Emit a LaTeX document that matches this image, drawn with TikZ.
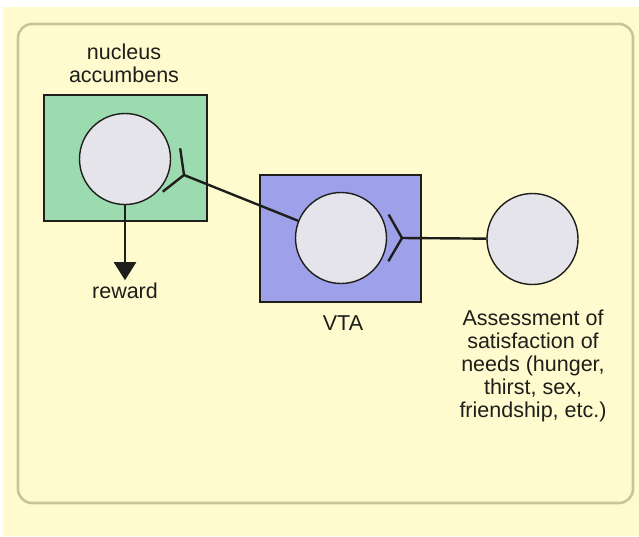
\documentclass[tikz,border=0pt]{standalone}
\usepackage{fontspec}
\setmainfont{Liberation Sans}
\usetikzlibrary{arrows.meta,calc}
\definecolor{bgyellow}{RGB}{255,251,206}
\definecolor{framecol}{RGB}{200,198,152}
\definecolor{nagreen}{RGB}{155,219,175}
\definecolor{vtablue}{RGB}{158,160,234}
\definecolor{cellgray}{RGB}{228,228,234}
\definecolor{ink}{RGB}{30,30,26}
\begin{document}
\begin{tikzpicture}[x=1pt,y=-1pt,
  regionbox/.style={draw=ink, line width=1.4pt, inner sep=0pt},
  cell/.style={circle, draw=ink, line width=1.4pt, fill=cellgray, minimum size=91pt, inner sep=0pt},
  conn/.style={draw=ink, line width=2.4pt, line join=round},
  lbl/.style={text=ink, font=\fontsize{21.5}{23}\selectfont, inner sep=0pt, align=center}
]
\useasboundingbox (0,0) rectangle (639,536);
\fill[white] (0,0) rectangle (639,536);
\fill[bgyellow] (3,7) rectangle (639,536);
\draw[framecol, line width=2.6pt, rounded corners=14pt] (18,24) rectangle (633,503);

% region boxes
\node[regionbox, fill=nagreen, minimum width=163pt, minimum height=126pt] (nabox) at (125.5,158) {};
\node[regionbox, fill=vtablue, minimum width=161pt, minimum height=127pt] (vtabox) at (340.5,238.5) {};

% cells
\node[cell] (na) at (125,159) {};
\node[cell] (vta) at (341,238) {};
\node[cell] (need) at (532.5,239) {};

% labels
\node[lbl, anchor=north] (nalabel) at (124,44) {nucleus\\accumbens};
\node[lbl, anchor=base, inner sep=2pt] (reward) at (125,298) {reward};
\node[lbl, anchor=base] (vtalabel) at (343,330) {VTA};
\node[lbl, anchor=north] (needlabel) at (533,310) {Assessment of\\satisfaction of\\needs (hunger,\\thirst, sex,\\friendship, etc.)};

% synapse NA -> VTA
\coordinate (s1) at (184,175);
\draw[conn] (s1) -- (vta);
\draw[conn] ($(s1)!27pt!120:(vta)$) -- (s1) -- ($(s1)!27pt!-120:(vta)$);

% synapse VTA -> need
\coordinate (s2) at (402,238);
\draw[conn] (s2) -- (need);
\draw[conn] ($(s2)!27pt!120:(need)$) -- (s2) -- ($(s2)!27pt!-120:(need)$);

% output arrow
\draw[conn, -{Triangle[width=22pt,length=18pt]}] (na) -- (reward.north);
\end{tikzpicture}
\end{document}
